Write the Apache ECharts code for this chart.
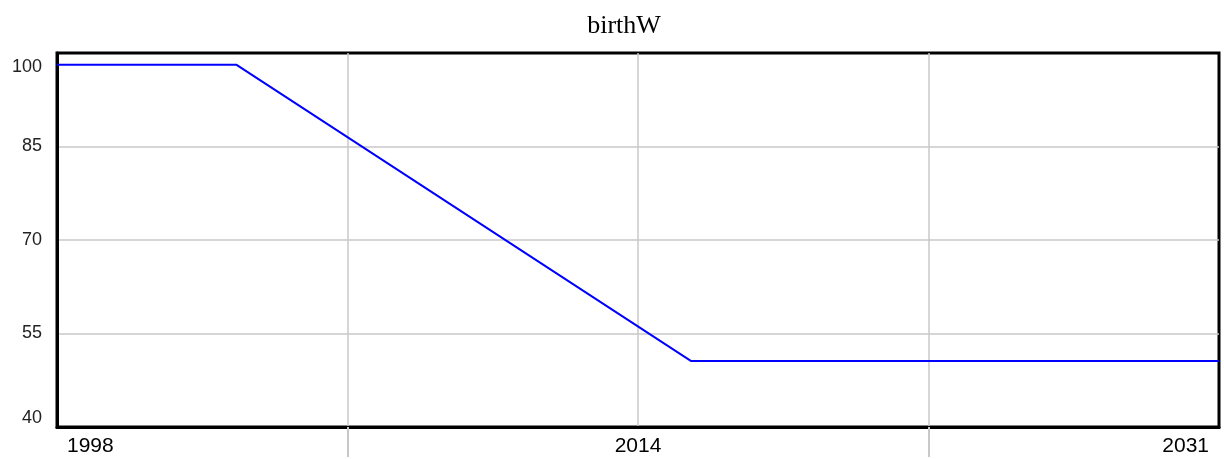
<!DOCTYPE html>
<html>
<head>
<meta charset="utf-8">
<script src="https://cdn.jsdelivr.net/npm/echarts@6/dist/echarts.min.js"></script>
<style>
  html, body { margin: 0; padding: 0; background: #fff; }
  #chart { width: 1224px; height: 459px; }
</style>
</head>
<body>
<div id="chart"></div>
<script>
// birthW
var years = [1998, 2003.1, 2016, 2031]
var birthW = [98.1, 98.1, 50.6, 50.6]
var xLabelValues = [1998, 2014.5, 2031]
var xLabelTexts = ['1998', '2014', '2031']
var xTickValues = [2006.25, 2022.75]

var myChart = echarts.init(document.getElementById('chart'))
var option = {
  animation: false,
  title: {
    text: 'birthW',
    left: 619,
    textAlign: 'center',
    top: 8,
    textStyle: {
      fontFamily: 'Liberation Serif',
      fontWeight: 'normal',
      fontSize: 26,
      color: '#000'
    }
  },
  grid: {
    left: 57,
    right: 5,
    top: 53,
    bottom: 32,
    show: true,
    borderColor: '#000',
    borderWidth: 3
  },
  xAxis: [
    {
      type: 'value',
      min: 1998,
      max: 2031,
      interval: 8.25,
      axisLine: { show: true, lineStyle: { color: '#000', width: 3 } },
      axisTick: { show: false },
      axisLabel: {
        customValues: xLabelValues,
        margin: 9,
        padding: [0, 10, 0, 10],
        alignMinLabel: 'left',
        alignMaxLabel: 'right',
        fontFamily: 'Liberation Sans',
        fontSize: 21,
        color: '#000',
        formatter: function (value) {
          var i = xLabelValues.indexOf(value)
          return i >= 0 ? xLabelTexts[i] : ''
        }
      },
      splitLine: {
        show: true,
        showMinLine: false,
        showMaxLine: false,
        lineStyle: { color: '#c8c8c8', width: 1.5 }
      }
    },
    {
      // only the gray ticks hanging under the frame
      type: 'value',
      position: 'bottom',
      min: 1998,
      max: 2031,
      axisLine: { show: false },
      axisLabel: { show: false },
      splitLine: { show: false },
      axisTick: {
        show: true,
        customValues: xTickValues,
        length: 30,
        lineStyle: { color: '#c8c8c8', width: 2 }
      }
    }
  ],
  yAxis: {
    type: 'value',
    min: 40,
    max: 100,
    interval: 15,
    axisLine: { show: true, lineStyle: { color: '#000', width: 3 } },
    axisTick: { show: false },
    axisLabel: {
      margin: 15,
      fontFamily: 'Liberation Sans',
      fontSize: 18,
      color: '#222',
      verticalAlignMinLabel: 'bottom',
      verticalAlignMaxLabel: 'top',
      formatter: function (value) {
        return value === 100 ? '{top|100}' : String(value)
      },
      rich: {
        top: {
          fontFamily: 'Liberation Sans',
          fontSize: 18,
          color: '#222',
          padding: [5, 0, 0, 0]
        }
      }
    },
    splitLine: {
      show: true,
      showMinLine: false,
      showMaxLine: false,
      lineStyle: { color: '#c8c8c8', width: 1.5 }
    }
  },
  series: [
    {
      name: 'birthW',
      type: 'line',
      xAxisIndex: 0,
      data: years.map(function (y, i) { return [y, birthW[i]] }),
      showSymbol: false,
      lineStyle: { color: '#0000ff', width: 2 }
    }
  ]
}

option && myChart.setOption(option)
</script>
</body>
</html>
